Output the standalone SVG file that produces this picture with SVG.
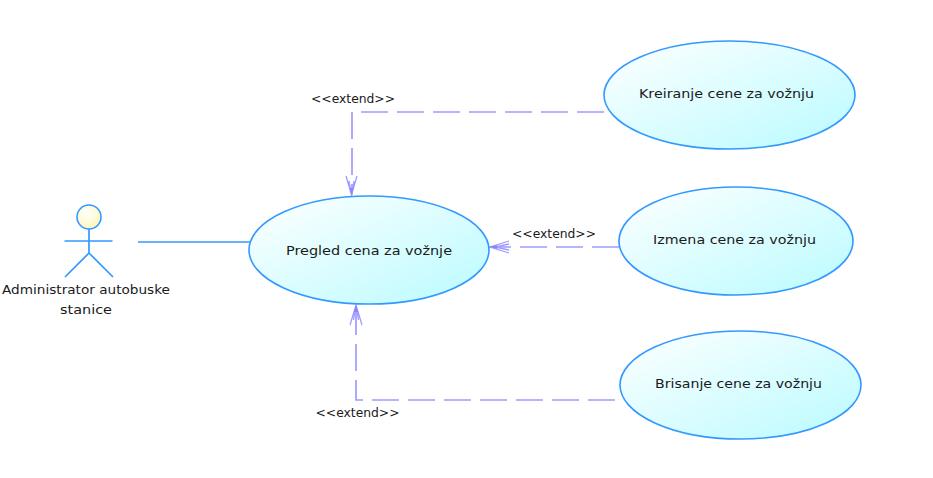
<svg xmlns="http://www.w3.org/2000/svg" width="933" height="478" viewBox="0 0 933 478">
<style>
text{font-family:"DejaVu Sans","Liberation Sans",sans-serif;font-size:13px;fill:#1a1a1a;text-anchor:middle}
.uc{fill:url(#g);stroke:#3399ff;stroke-width:1.6}
.a{fill:none;stroke:#3399ff;stroke-width:1.7}
.d{fill:none;stroke:#9f9bff;stroke-width:1.7;stroke-dasharray:27 9}
.h{fill:none;stroke:#9f9bff;stroke-width:1.3}
.t{fill:#8a86f5;stroke:none}
</style>
<defs>
<linearGradient id="g" x1="0" y1="0" x2="1" y2="1"><stop offset="0" stop-color="#ffffff"/><stop offset="1" stop-color="#b9fbff"/></linearGradient>
<radialGradient id="y" cx="0.4" cy="0.35" r="0.7"><stop offset="0" stop-color="#ffffff"/><stop offset="1" stop-color="#fdf6b8"/></radialGradient>
</defs>
<g id="connectors">
<path class="a" d="M138 242H250"/>
<path class="d" d="M604 112H352V195"/>
<path class="h" d="M346 176L351.500 195L357 176M349 181L351.500 195L354 181"/>
<path class="t" d="M349.500 188H353.500L351.500 195Z"/>
<path class="d" d="M619 247H489"/>
<path class="h" d="M509 241L490 247L509 253M495 247L509 244M495 247L509 250"/>
<path class="t" d="M490 247L497 245V249Z"/>
<path class="d" d="M615 400H356V305"/>
<path class="h" d="M350 325L356 305L362 325M353.500 320L356 305L358.500 320"/>
<path class="t" d="M356 305L358 312H354Z"/>
</g>
<g id="actor">
<circle cx="89" cy="217" r="12" fill="url(#y)" stroke="#3399ff" stroke-width="1.6"/>
<path class="a" d="M89 229V253M64.500 241H112.500M89 253L65 277M89 253L113 277"/>
<text x="86" y="294" textLength="168" lengthAdjust="spacingAndGlyphs">Administrator autobuske</text>
<text x="86" y="314" textLength="52" lengthAdjust="spacingAndGlyphs">stanice</text>
</g>
<g id="pregled"><ellipse class="uc" cx="369" cy="250" rx="120" ry="54"/><text x="369" y="255" textLength="166" lengthAdjust="spacingAndGlyphs">Pregled cena za vožnje</text></g>
<g id="kreiranje"><ellipse class="uc" cx="729.500" cy="95" rx="125.500" ry="54"/><text x="726.500" y="98" textLength="175" lengthAdjust="spacingAndGlyphs">Kreiranje cene za vožnju</text></g>
<g id="izmena"><ellipse class="uc" cx="736" cy="241" rx="117" ry="54"/><text x="734.500" y="244" textLength="163" lengthAdjust="spacingAndGlyphs">Izmena cene za vožnju</text></g>
<g id="brisanje"><ellipse class="uc" cx="740.500" cy="385" rx="120.500" ry="54"/><text x="738.500" y="388" textLength="167" lengthAdjust="spacingAndGlyphs">Brisanje cene za vožnju</text></g>
<g id="labels">
<text x="353" y="103" textLength="84" lengthAdjust="spacingAndGlyphs">&lt;&lt;extend&gt;&gt;</text>
<text x="554" y="238" textLength="84" lengthAdjust="spacingAndGlyphs">&lt;&lt;extend&gt;&gt;</text>
<text x="357.500" y="417" textLength="84" lengthAdjust="spacingAndGlyphs">&lt;&lt;extend&gt;&gt;</text>
</g>
</svg>
